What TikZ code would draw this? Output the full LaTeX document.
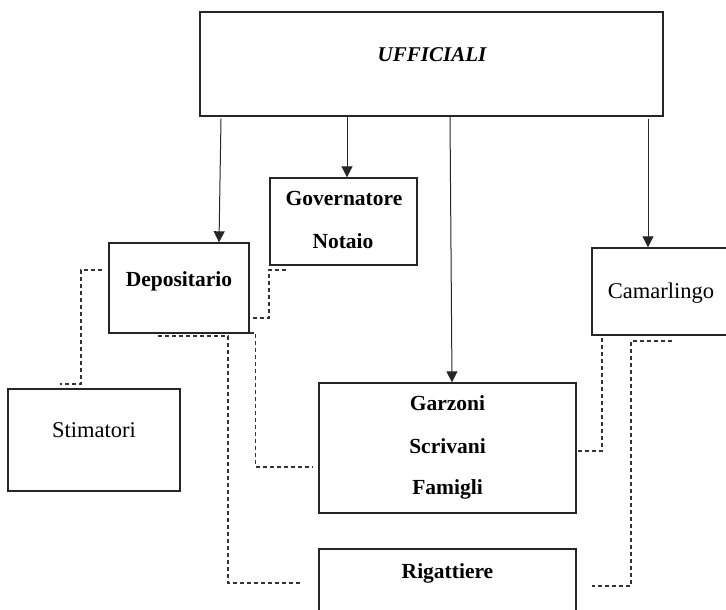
\documentclass[tikz,border=0pt]{standalone}
\usepackage{fontspec}
\setmainfont{Liberation Serif}
\usetikzlibrary{arrows.meta}
\begin{document}
\begin{tikzpicture}[x=1pt,y=-1pt,
  box/.style={draw=black!85,line width=1.4pt,inner sep=0pt,rectangle},
  lbl/.style={anchor=base,inner sep=0pt,font=\fontsize{21.5}{24}\selectfont\bfseries},
  lblr/.style={anchor=base,inner sep=0pt,font=\fontsize{22.5}{24}\selectfont},
  arr/.style={draw=black!85,line width=1pt,-{Triangle[width=11pt,length=11pt]}},
  dsh/.style={draw=black!80,line width=1.2pt,dash pattern=on 4pt off 3pt}]
\useasboundingbox (0,0) rectangle (726,610);
\fill[white] (0,0) rectangle (726,610);
% boxes
\node[box,minimum width=463pt,minimum height=104pt] (uff) at (431.5,64) {};
\node[box,minimum width=147pt,minimum height=87pt] (gov) at (343.5,221.5) {};
\node[box,minimum width=140pt,minimum height=90pt] (dep) at (179,288) {};
\node[box,minimum width=172pt,minimum height=102pt] (stim) at (94,440) {};
\node[box,minimum width=257pt,minimum height=130pt] (garz) at (447.5,448) {};
\node[box,minimum width=257pt,minimum height=91pt] (rig) at (447.5,594.5) {};
\node[box,minimum width=168pt,minimum height=87pt] (cam) at (676,291.5) {};
% labels
\node[lbl,font=\fontsize{21}{24}\selectfont\bfseries\itshape] (tuff) at (432,62) {UFFICIALI};
\node[lbl] (tgov) at (344,205) {Governatore};
\node[lbl] (tnot) at (343,248) {Notaio};
\node[lbl] (tdep) at (179,286) {Depositario};
\node[lblr] (tstim) at (94,437) {Stimatori};
\node[lblr] (tcam) at (661,298) {Camarlingo};
\node[lbl] (tgar) at (447.5,410) {Garzoni};
\node[lbl] (tscr) at (447.5,453) {Scrivani};
\node[lbl] (tfam) at (447.5,494) {Famigli};
\node[lbl] (trig) at (447.5,578) {Rigattiere};
% arrow positions
\coordinate (a1s) at (221,0);
\coordinate (a1e) at (219,0);
\coordinate (a2) at (347,0);
\coordinate (a3s) at (450,0);
\coordinate (a3e) at (452,0);
\coordinate (a4) at (648,0);
\draw[arr] ([yshift=-2pt]uff.south -| a1s) -- (dep.north -| a1e);
\draw[arr] (uff.south -| a2) -- (gov.north -| a2);
\draw[arr] (uff.south -| a3s) -- (garz.north -| a3e);
\draw[arr] ([yshift=-2pt]uff.south -| a4) -- (cam.north -| a4);
% dashed connectors
\coordinate (dA1) at (102,270);
\coordinate (dA2) at (81,270);
\coordinate (dA3) at (81,384);
\coordinate (dA4) at (60,384);
\draw[dsh] (dA1) -- (dA2) -- (dA3) -- (dA4);
\coordinate (dB1) at (286,270);
\coordinate (dB2) at (269,270);
\coordinate (dB3) at (269,318);
\coordinate (dB4) at (253,318);
\draw[dsh] (dB1) -- (dB2) -- (dB3) -- (dB4);
\coordinate (dC1) at (250,333);
\coordinate (dC2) at (255.8,333);
\coordinate (dC3) at (255.8,467);
\coordinate (dC4) at (313,467);
\draw[dsh] (dC1) -- (dC2) -- (dC3) -- (dC4);
\coordinate (dD1) at (158,336);
\coordinate (dD2) at (228,336);
\coordinate (dD3) at (228,583);
\coordinate (dD4) at (300,583);
\draw[dsh] (dD1) -- (dD2) -- (dD3) -- (dD4);
\coordinate (dE1) at (602,338);
\coordinate (dE2) at (602,451);
\draw[dsh] (dE1) -- (dE2) -- (garz.east |- dE2);
\coordinate (dF1) at (672,341);
\coordinate (dF2) at (631,341);
\coordinate (dF3) at (631,586);
\coordinate (dF4) at (592,586);
\draw[dsh] (dF1) -- (dF2) -- (dF3) -- (dF4);
\end{tikzpicture}
\end{document}
